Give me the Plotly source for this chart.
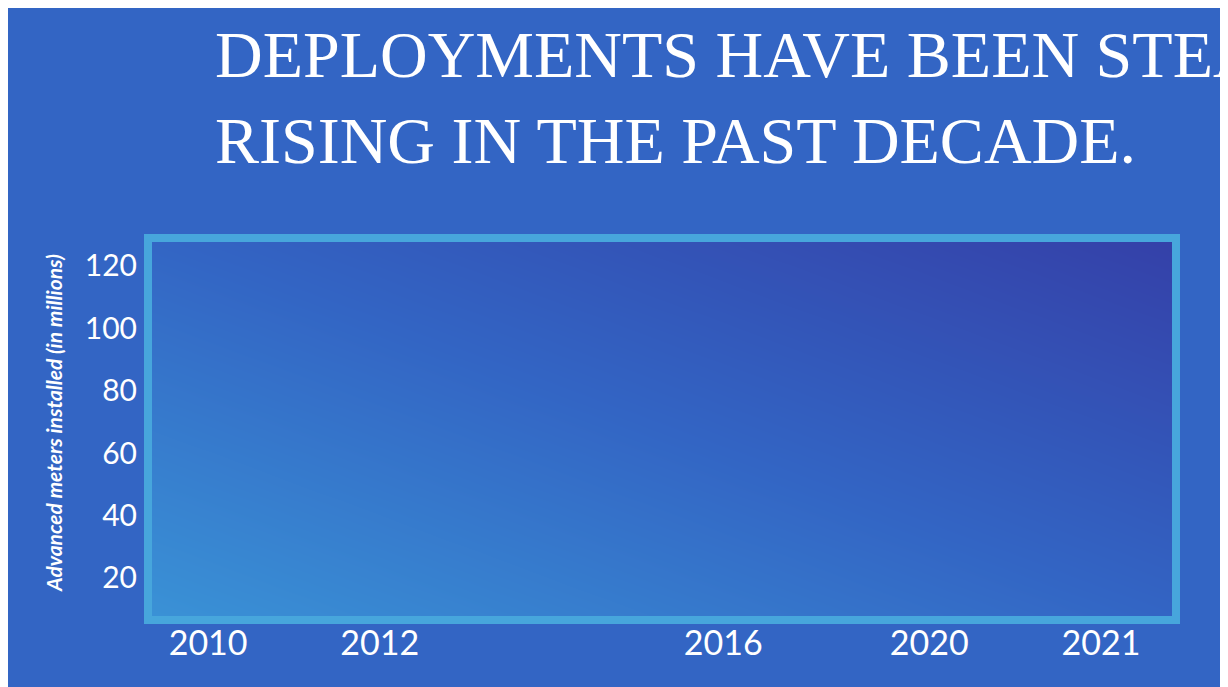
import numpy as np
import plotly.graph_objects as go

# data
tick_labels = ['2010', '2012', '2016', '2020', '2021']
tick_pos = [0, 1, 3, 4.2, 5.2]
marker_vals = [19, 41, 75.5, 99.5, 120]
# the line has one extra bend between 2012 and 2016
line_pos = [0, 1, 2.73, 3, 4.2, 5.2]
line_vals = [19, 41, 69, 75.5, 99.5, 120]
y_ticks = [20, 40, 60, 80, 100, 120]

fig = go.Figure()

# diagonal gradient background on a hidden full-frame axis
gx = np.linspace(0, 1, 60)
gy = np.linspace(0, 1, 40)
gz = [[(a + b) / 2 for a in gx] for b in gy]
fig.add_trace(go.Heatmap(
    x=gx, y=gy, z=gz, xaxis='x2', yaxis='y2', zsmooth='best',
    colorscale=[[0, '#3a92d6'], [0.5, '#3365c4'], [1, '#3440a8']],
    showscale=False, hoverinfo='skip'
))

fig.add_trace(go.Scatter(
    x=line_pos, y=line_vals, mode='lines',
    line=dict(color='white', width=3), hoverinfo='skip'
))
fig.add_trace(go.Scatter(
    x=tick_pos, y=marker_vals, mode='markers',
    marker=dict(color='white', size=28)
))

fig.update_layout(
    width=1228, height=687,
    margin=dict(l=140, r=60, t=230, b=75),
    showlegend=False,
    paper_bgcolor='#3365c4',
    plot_bgcolor='rgba(0,0,0,0)',
    xaxis=dict(range=[-0.35, 5.637], tickvals=tick_pos, ticktext=tick_labels,
               showgrid=False, zeroline=False, showline=False,
               tickfont=dict(family='Lato', size=34, color='white')),
    yaxis=dict(range=[6.5, 128.97], tickvals=y_ticks, showgrid=False,
               zeroline=False, showline=False, ticklabelstandoff=10,
               tickfont=dict(family='Lato', size=30, color='white')),
    xaxis2=dict(domain=[0, 1], range=[0, 1], visible=False, anchor='y2', overlaying='x'),
    yaxis2=dict(domain=[0, 1], range=[0, 1], visible=False, anchor='x2', overlaying='y'),
    shapes=[dict(type='rect', xref='paper', yref='paper', x0=0, y0=0, x1=1, y1=1,
                 line=dict(color='#47a6dc', width=8))],
    annotations=[
        dict(text='DEPLOYMENTS HAVE BEEN STEADILY<br>RISING IN THE PAST DECADE.',
             xref='paper', yref='paper', x=(205 - 140) / 1028, y=1 + 222 / 382,
             xanchor='left', yanchor='top', align='left', showarrow=False,
             font=dict(family='Liberation Sans Narrow', size=66, color='white')),
        dict(text='<b><i>Advanced meters installed (in millions)</i></b>',
             xref='paper', yref='paper', x=-95 / 1028, y=(687 - 75 - 415) / 382,
             textangle=-90, showarrow=False, xanchor='center', yanchor='middle',
             font=dict(family='Lato', size=21, color='white')),
    ],
)

# heatmap must sit beneath the data traces
fig.data = (fig.data[0],) + fig.data[1:]
fig.update_layout(xaxis2=dict(layer='below traces'))

fig.write_html('out.html')
